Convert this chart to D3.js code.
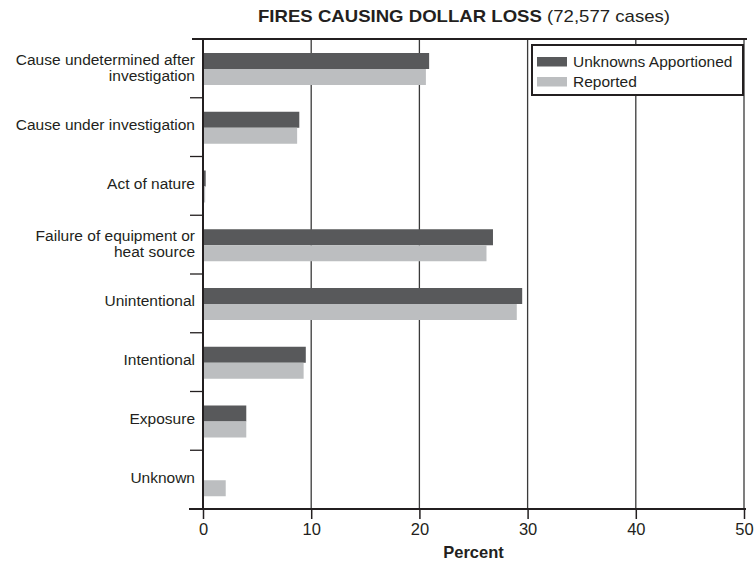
<!DOCTYPE html>
<html>
<head>
<meta charset="utf-8">
<script src="https://cdn.jsdelivr.net/npm/d3@7"></script>
<style>
  html, body { margin: 0; padding: 0; background: #fff; }
  svg { display: block; font-family: "Liberation Sans", Arial, sans-serif; }
</style>
</head>
<body>
<svg id="chart" width="754" height="562"></svg>
<script>
// Cause categories (line breaks mark wrapped labels)
const categories = [
  "Cause undetermined after\ninvestigation",
  "Cause under investigation",
  "Act of nature",
  "Failure of equipment or\nheat source",
  "Unintentional",
  "Intentional",
  "Exposure",
  "Unknown"
];
const seriesNames = ["Unknowns Apportioned", "Reported"];
const apportioned = [20.9, 8.9, 0.25, 26.8, 29.5, 9.5, 4.0, 0];
const reported    = [20.6, 8.7, 0.2, 26.2, 29.0, 9.3, 4.0, 2.1];
const xTicks = [0, 10, 20, 30, 40, 50];
const colors = ["#58595b", "#bcbec0"];

const svg = d3.select("#chart");
const ink = "#231f20";

const plotLeft = 203, plotRight = 744, plotTop = 39, plotBottom = 509;

const x = d3.scaleLinear().domain([0, 50]).range([plotLeft, plotRight]);
const y = d3.scaleBand().domain(categories).range([plotTop, plotBottom]);
const ySub = d3.scaleBand().domain(seriesNames).range([14, 46]);
const color = d3.scaleOrdinal().domain(seriesNames).range(colors);

// Title
const title = svg.append("text")
  .attr("x", 464).attr("y", 22)
  .attr("text-anchor", "middle")
  .attr("font-size", 17)
  .attr("fill", ink)
  .attr("textLength", 412)
  .attr("lengthAdjust", "spacingAndGlyphs");
title.append("tspan").attr("font-weight", "bold").text("FIRES CAUSING DOLLAR LOSS ");
title.append("tspan").text("(72,577 cases)");

// Vertical gridlines
svg.append("g")
  .selectAll("line")
  .data(xTicks.slice(1))
  .join("line")
  .attr("x1", d => x(d)).attr("x2", d => x(d))
  .attr("y1", plotTop).attr("y2", plotBottom)
  .attr("stroke", "#3a3a3a").attr("stroke-width", 1.3);

// Bars
const rows = categories.map((c, i) => ({
  cat: c,
  values: [
    { key: seriesNames[0], v: apportioned[i] },
    { key: seriesNames[1], v: reported[i] }
  ]
}));

svg.append("g")
  .selectAll("g")
  .data(rows)
  .join("g")
  .attr("transform", d => `translate(0,${y(d.cat)})`)
  .selectAll("rect")
  .data(d => d.values.filter(e => e.v > 0))
  .join("rect")
  .attr("x", x(0))
  .attr("y", d => ySub(d.key))
  .attr("width", d => x(d.v) - x(0))
  .attr("height", ySub.bandwidth())
  .attr("fill", d => color(d.key));

// Bottom axis
const xAxis = svg.append("g")
  .attr("transform", `translate(0,${plotBottom})`)
  .call(d3.axisBottom(x).tickValues(xTicks).tickSize(10).tickPadding(4).tickFormat(d3.format("d")));
xAxis.select(".domain").remove();
xAxis.selectAll(".tick line").attr("stroke", ink).attr("stroke-width", 1.5);
xAxis.selectAll(".tick text").attr("font-size", 16.5).attr("fill", ink)
  .attr("font-family", "'Liberation Sans', Arial, sans-serif");
svg.append("line")
  .attr("x1", 189).attr("x2", 746).attr("y1", plotBottom).attr("y2", plotBottom)
  .attr("stroke", ink).attr("stroke-width", 2);

// Top frame line
svg.append("line")
  .attr("x1", 192).attr("x2", 747).attr("y1", plotTop).attr("y2", plotTop)
  .attr("stroke", ink).attr("stroke-width", 2);

// Left axis with separators between categories
svg.append("line")
  .attr("x1", plotLeft).attr("x2", plotLeft).attr("y1", plotTop).attr("y2", plotBottom)
  .attr("stroke", ink).attr("stroke-width", 2);
svg.append("g")
  .selectAll("line")
  .data(categories.slice(1))
  .join("line")
  .attr("x1", 190).attr("x2", plotLeft)
  .attr("y1", d => y(d)).attr("y2", d => y(d))
  .attr("stroke", ink).attr("stroke-width", 1.3);

// Category labels
const labels = svg.append("g")
  .selectAll("text")
  .data(categories)
  .join("text")
  .attr("text-anchor", "end")
  .attr("font-size", 15.5)
  .attr("fill", ink);
labels.each(function (d) {
  const lines = d.split("\n");
  const cy = y(d) + y.bandwidth() / 2;
  const lh = 15.5;
  const shift = lines.length > 1 ? 4.5 : 3;
  const start = cy - (lines.length - 1) * lh / 2 + shift;
  d3.select(this).selectAll("tspan")
    .data(lines)
    .join("tspan")
    .attr("x", 195)
    .attr("y", (l, i) => start + i * lh)
    .text(l => l);
});

// Axis title
svg.append("text")
  .attr("x", (plotLeft + plotRight) / 2).attr("y", 558)
  .attr("text-anchor", "middle")
  .attr("font-size", 16.5).attr("font-weight", "bold")
  .attr("fill", ink)
  .text("Percent");

// Legend
const legend = svg.append("g");
legend.append("rect")
  .attr("x", 532).attr("y", 45).attr("width", 211).attr("height", 50)
  .attr("fill", "#fff").attr("stroke", ink).attr("stroke-width", 2);
const li = legend.selectAll("g.item")
  .data(seriesNames)
  .join("g")
  .attr("class", "item")
  .attr("transform", (d, i) => `translate(537,${57 + i * 20})`);
li.append("rect")
  .attr("width", 30).attr("height", 9.5)
  .attr("fill", d => color(d));
li.append("text")
  .attr("x", 36).attr("y", 10)
  .attr("font-size", 15.5)
  .attr("fill", ink)
  .text(d => d);
</script>
</body>
</html>
